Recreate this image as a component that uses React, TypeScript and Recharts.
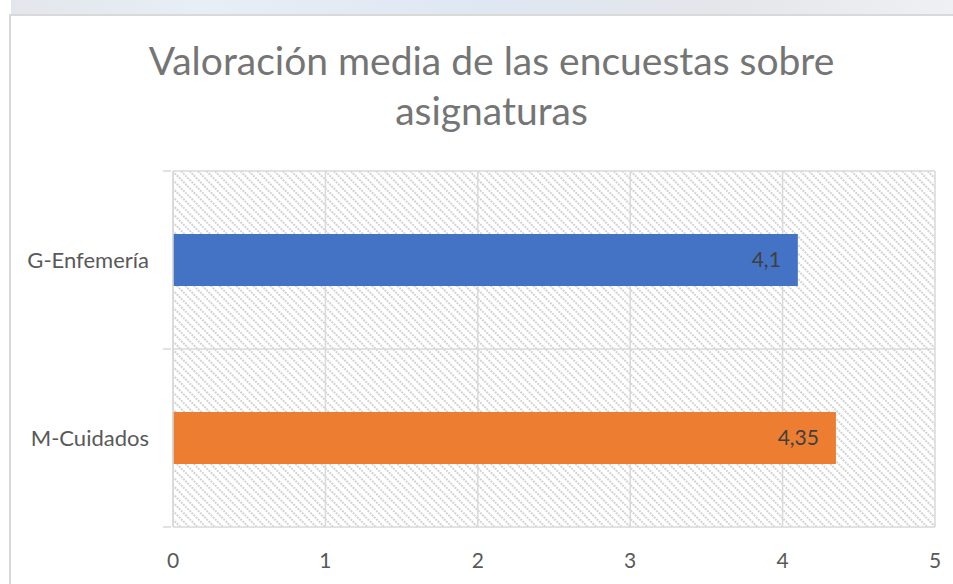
import { BarChart, Bar, Cell, XAxis, YAxis, CartesianGrid, LabelList } from 'recharts';

const categorias = ['G-Enfemería', 'M-Cuidados'];
const valores = [4.1, 4.35];
const colores = ['#4472C4', '#ED7D31'];
const ticksValor = [0, 1, 2, 3, 4, 5];

const dados = categorias.map((nombre, i) => ({ nombre, valor: valores[i] }));

const ANCHO = 953;
const ALTO = 584;
const MARGEN = { top: 171, right: 18, bottom: 0, left: 0 };
const ANCHO_EJE_Y = 173;
const ALTO_EJE_X = 57;
const ALTO_PLOT = ALTO - MARGEN.top - MARGEN.bottom - ALTO_EJE_X;
const MEDIA_BANDA = ALTO_PLOT / categorias.length / 2;

const FUENTE = 'Lato, "Open Sans", sans-serif';
const GRIS_TEXTO = '#595959';
const GRIS_LINEA = '#d9d9d9';

function TickCategoria(props: any) {
  const { x, y, payload, index } = props;
  return (
    <g>
      <line x1={x - 2} x2={x + 6} y1={y - MEDIA_BANDA} y2={y - MEDIA_BANDA} stroke={GRIS_LINEA} strokeWidth={1.5} />
      {index === categorias.length - 1 && (
        <line x1={x - 2} x2={x + 6} y1={y + MEDIA_BANDA} y2={y + MEDIA_BANDA} stroke={GRIS_LINEA} strokeWidth={1.5} />
      )}
      <text x={x - 16} y={y} dy="0.35em" textAnchor="end" fill={GRIS_TEXTO} fontSize={22} fontFamily={FUENTE}>
        {payload.value}
      </text>
    </g>
  );
}

export default function App() {
  return (
    <div style={{ position: 'fixed', left: 0, top: 0, width: ANCHO, height: ALTO, background: '#fff', overflow: 'hidden' }}>
      {/* franja superior difuminada */}
      <div style={{
        position: 'absolute', left: 11, top: 0, width: ANCHO - 11, height: 14,
        background: 'linear-gradient(90deg, #e3e7eb 0%, #e8eef6 20%, #dfe7f3 50%, #e4e6ea 75%, #eef0f3 100%)'
      }} />
      <div style={{
        position: 'absolute', left: 9, top: 14, width: ANCHO, height: ALTO,
        borderLeft: `2px solid ${GRIS_LINEA}`, borderTop: `2px solid ${GRIS_LINEA}`
      }} />
      <div style={{
        position: 'absolute', left: 30, top: 35, width: ANCHO - 30, textAlign: 'center',
        fontFamily: FUENTE, fontSize: 39, lineHeight: '50px', color: '#757575'
      }}>
        Valoración media de las encuestas sobre<br />asignaturas
      </div>
      <div style={{ position: 'absolute', left: 0, top: 0 }}>
        <BarChart width={ANCHO} height={ALTO} data={dados} layout="vertical" margin={MARGEN}>
          <defs>
            <pattern id="rayado" width="6" height="6" patternUnits="userSpaceOnUse" patternTransform="rotate(-45)">
              <rect width="6" height="6" fill="#ffffff" />
              <line x1="1" y1="0" x2="1" y2="6" stroke="#c9c9c9" strokeWidth="1.6" strokeDasharray="2 1" />
            </pattern>
          </defs>
          <CartesianGrid
            fill="url(#rayado)"
            fillOpacity={1}
            stroke={GRIS_LINEA}
            strokeWidth={1.5}
            horizontalCoordinatesGenerator={({ offset }: any) => [
              offset.top,
              offset.top + offset.height / 2,
              offset.top + offset.height,
            ]}
          />
          <XAxis
            type="number"
            domain={[0, 5]}
            ticks={ticksValor}
            height={ALTO_EJE_X}
            axisLine={false}
            tickLine={false}
            tick={{ fill: GRIS_TEXTO, fontSize: 21, fontFamily: FUENTE }}
            tickMargin={20}
            interval={0}
          />
          <YAxis
            type="category"
            dataKey="nombre"
            width={ANCHO_EJE_Y}
            axisLine={{ stroke: GRIS_LINEA, strokeWidth: 1.5 }}
            tickLine={false}
            tick={<TickCategoria />}
            interval={0}
          />
          <Bar dataKey="valor" barSize={52} isAnimationActive={false}>
            {dados.map((d, i) => (
              <Cell key={d.nombre} fill={colores[i]} />
            ))}
            <LabelList
              dataKey="valor"
              position="insideRight"
              offset={17}
              formatter={(v: any) => String(v).replace('.', ',')}
              style={{ fill: '#404040', fontSize: 21, fontFamily: FUENTE }}
            />
          </Bar>
        </BarChart>
      </div>
    </div>
  );
}
